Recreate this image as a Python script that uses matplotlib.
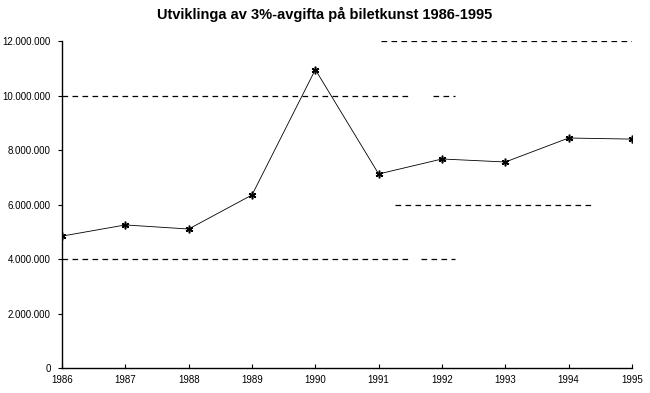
import matplotlib
matplotlib.use("Agg")
import matplotlib.pyplot as plt

years = [1986, 1987, 1988, 1989, 1990, 1991, 1992, 1993, 1994, 1995]
values = [4840000, 5250000, 5100000, 6350000, 10950000, 7120000, 7670000, 7560000, 8440000, 8400000]
yticks = [0, 2000000, 4000000, 6000000, 8000000, 10000000, 12000000]
ytick_labels = ["0", "2.000.000", "4.000.000", "6.000.000", "8.000.000", "10.000.000", "12.000.000"]
title = "Utviklinga av 3%-avgifta på biletkunst 1986-1995"

# visible portions of the (faded) gridlines, as axis fractions
grid_spans = {
    12000000: [(0.56, 1.0)],
    10000000: [(0.0, 0.61), (0.65, 0.69)],
    6000000: [(0.585, 0.93)],
    4000000: [(0.0, 0.61), (0.63, 0.69)],
}

plt.rcParams['font.family'] = ['Liberation Sans', 'DejaVu Sans']

fig = plt.figure(figsize=(6.5, 3.93), dpi=100)
ax = fig.add_axes([62/650, 1-368/393, (632-62)/650, (368-41)/393])

for y, spans in grid_spans.items():
    for a, b in spans:
        ax.axhline(y, xmin=a, xmax=b, color='black', lw=0.9, ls=(0, (4.5, 3.5)), zorder=1)

ax.plot(years, values, color='black', lw=0.6, ls='-', marker=(6, 2, 0),
        markersize=5.5, markeredgewidth=1.1, zorder=3)

ax.set_xlim(1986, 1995)
ax.set_ylim(0, 12000000)
ax.set_xticks(years)
ax.set_xticklabels([str(y) for y in years])
ax.set_yticks(yticks)
ax.set_yticklabels(ytick_labels)
ax.tick_params(axis='x', direction='in', length=3, width=0.8, labelsize=7, pad=5)
ax.tick_params(axis='y', direction='out', length=3, width=0.8, labelsize=7, pad=5)
for s in ['top', 'right']:
    ax.spines[s].set_visible(False)
for s in ['left', 'bottom']:
    ax.spines[s].set_linewidth(1.0)

fig.text(0.5, 1-14/393, title, ha='center', va='center', fontsize=10.5, fontweight='bold')

fig.savefig("out.png", dpi=100)
